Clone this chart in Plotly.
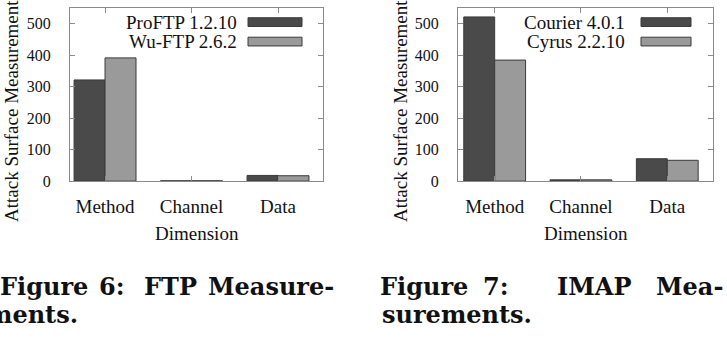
import plotly.graph_objects as go

W, H = 727, 342

categories = ["Method", "Channel", "Data"]
ftp_names = ["ProFTP 1.2.10", "Wu-FTP 2.6.2"]
proftp = [321, 1, 18]
wuftp = [391, 1, 17]
imap_names = ["Courier 4.0.1", "Cyrus 2.2.10"]
courier = [521, 4, 71]
cyrus = [384, 4, 66]
yticks = [0, 100, 200, 300, 400, 500]

DARK = "#4a4a4a"
LIGHT = "#9a9a9a"
EDGE = "#3a3a3a"
FRAME = "#8a8a8a"
TXT = "#111"
SERIF = "Liberation Serif, Times New Roman, serif"
CAP = "DejaVu Serif, serif"

def px(x):
    return x / W

def py(y):
    return (H - y) / H

L = (70, 323)
R = (458, 713)
TOP, BOT = 8, 186

fig = go.Figure()
xs = list(range(len(categories)))
for vals, name, col, ax in [
    (proftp, ftp_names[0], DARK, 1),
    (wuftp, ftp_names[1], LIGHT, 1),
    (courier, imap_names[0], DARK, 2),
    (cyrus, imap_names[1], LIGHT, 2),
]:
    fig.add_trace(go.Bar(
        x=xs, y=vals, name=name, showlegend=False,
        marker=dict(color=col, line=dict(color=EDGE, width=1)),
        xaxis="x" if ax == 1 else "x2", yaxis="y" if ax == 1 else "y2",
        offsetgroup=name, hoverinfo="skip",
    ))

axcommon = dict(showline=True, linecolor=FRAME, linewidth=1, mirror="ticks",
                ticks="inside", tickcolor=FRAME, ticklen=5, showgrid=False,
                zeroline=False, tickfont=dict(family=SERIF, size=19, color=TXT))
ycommon = dict(axcommon, range=[0, 550], tickvals=yticks,
               tickfont=dict(family=SERIF, size=16, color=TXT),
               ticklabelstandoff=15)

fig.update_layout(
    width=W, height=H, margin=dict(l=0, r=0, t=0, b=0),
    paper_bgcolor="white", plot_bgcolor="white",
    barmode="group", bargap=0.284, bargroupgap=0,
    xaxis=dict(axcommon, domain=[px(L[0]), px(L[1])], range=[-0.405, 2.52],
               tickvals=xs, ticktext=categories, anchor="y", ticklabelstandoff=8),
    yaxis=dict(ycommon, domain=[py(BOT), py(TOP)], anchor="x"),
    xaxis2=dict(axcommon, domain=[px(R[0]), px(R[1])], range=[-0.425, 2.53],
                tickvals=xs, ticktext=categories, anchor="y2", ticklabelstandoff=8),
    yaxis2=dict(ycommon, domain=[py(BOT), py(TOP)], anchor="x2"),
)

ann = []
shapes = []
for (a, b), ytx in [(L, 11), (R, 400)]:
    ann.append(dict(text="Dimension", x=px((a + b) / 2), y=py(240), xref="paper", yref="paper",
                    showarrow=False, font=dict(family=SERIF, size=19, color=TXT),
                    xanchor="center", yanchor="middle"))
    ann.append(dict(text="Attack Surface Measurement", x=px(ytx), y=py(114), xref="paper",
                    yref="paper", showarrow=False, textangle=-90,
                    font=dict(family=SERIF, size=19, color=TXT),
                    xanchor="center", yanchor="middle"))

for (a, b), names, txt_end, sw in [
    (L, ftp_names, 239, (248, 302)),
    (R, imap_names, 627, (641, 691)),
]:
    for i, (nm, col) in enumerate(zip(names, [DARK, LIGHT])):
        yc = 22.7 + 20 * i
        ann.append(dict(text=nm, x=px(txt_end), y=py(yc), xref="paper", yref="paper",
                        showarrow=False, xanchor="right", yanchor="middle",
                        font=dict(family=SERIF, size=19, color=TXT)))
        shapes.append(dict(type="rect", xref="paper", yref="paper",
                           x0=px(sw[0]), x1=px(sw[1]), y0=py(yc + 4.5), y1=py(yc - 4.5),
                           fillcolor=col, line=dict(color=EDGE, width=1)))

# captions: justified lines placed word by word (x, anchor, line y)
Y1, Y2 = 294, 323
cap_words = [
    ("Figure", -2, "left", Y1), ("6:", 112, "center", Y1), ("FTP", 170, "center", Y1),
    ("Measure-", 271, "center", Y1),
    ("ments.", 80, "right", Y2),
    ("Figure", 424, "center", Y1), ("7:", 496, "center", Y1), ("IMAP", 594, "center", Y1),
    ("Mea-", 725, "right", Y1),
    ("surements.", 380, "left", Y2),
]
for w, x0, anc, yc in cap_words:
    ann.append(dict(text="<b>%s</b>" % w, x=px(x0), y=py(yc), xref="paper", yref="paper",
                    showarrow=False, xanchor=anc, yanchor="middle",
                    font=dict(family=CAP, size=24, color="#111")))

fig.update_layout(annotations=ann, shapes=shapes)
fig.write_html("out.html")
